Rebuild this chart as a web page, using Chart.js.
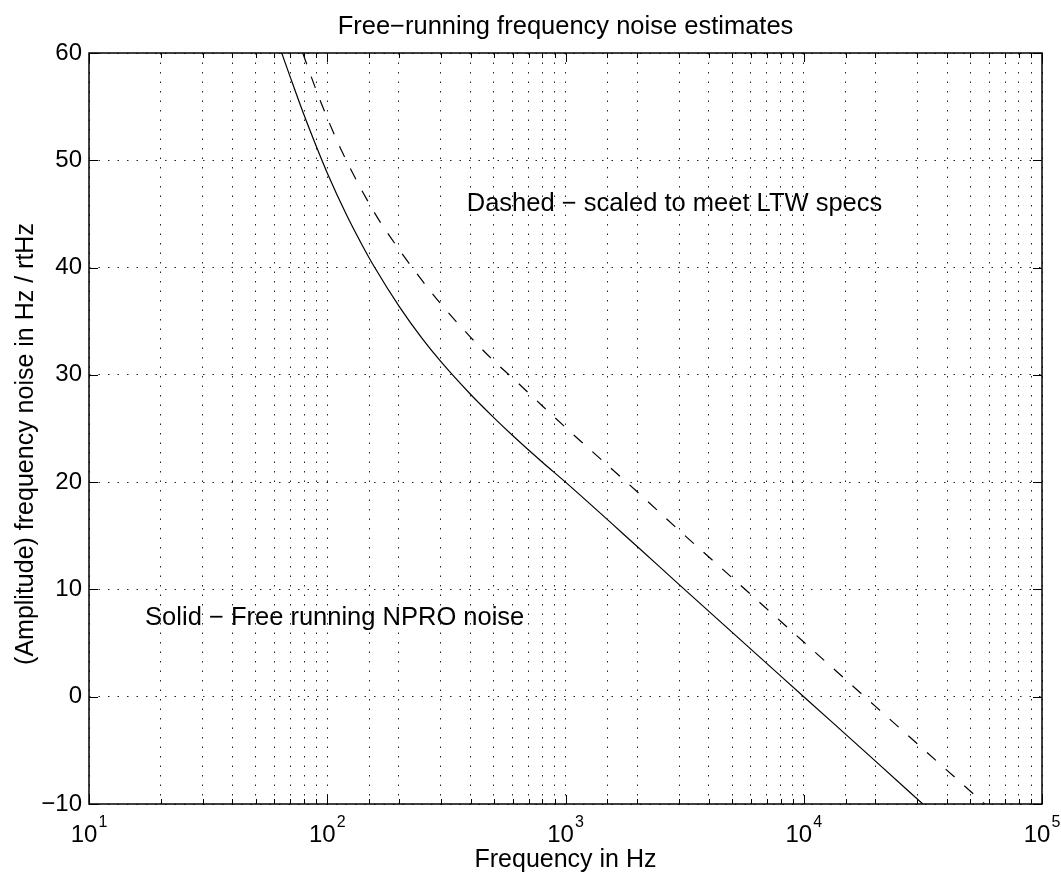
<!DOCTYPE html>
<html>
<head>
<meta charset="utf-8">
<script src="https://cdn.jsdelivr.net/npm/chart.js@4.4.0/dist/chart.umd.min.js"></script>
<style>
    html, body { margin: 0; padding: 0; background: #fff; }
    #wrap { width: 1061px; height: 875px; position: relative; }
</style>
</head>
<body>
<div id="wrap"><canvas id="noiseChart"></canvas></div>
<script>
// values (frequency in Hz, noise level)
const solidFreq  = [64.4, 70, 80, 90, 100, 120, 140, 158, 200, 250, 300, 400, 500, 600, 800, 1000, 2000, 3000, 10000, 20000, 31600];
const solidNoise = [60, 57.73, 54.19, 51.28, 48.82, 44.99, 42.11, 40.03, 36.41, 33.4, 31.23, 28.17, 26.02, 24.35, 21.85, 20, 14.0, 10.45, 0, -6.0, -10];

const dashedFreq  = [78.9, 90, 100, 116, 158, 200, 250, 300, 400, 500, 600, 800, 1000, 2000, 3000, 5000, 10000, 20000, 57500];
const dashedNoise = [60, 56.5, 53.95, 50.7, 45.1, 41.7, 38.8, 36.6, 33.5, 31.3, 29.7, 27.1, 25.1, 19.1, 15.5, 11.1, 5.1, -0.9, -10];

const xDecades = [1, 2, 3, 4, 5];
const yTicks = [-10, 0, 10, 20, 30, 40, 50, 60];

const FONT = "'Liberation Sans', Arial, Helvetica, sans-serif";
const titleText = "Free\u2212running frequency noise estimates";
const yTitleText = "(Amplitude) frequency noise in Hz / rtHz";

const notes = [
    {text: "Dashed \u2212 scaled to meet LTW specs", x: 385, y: 45.9},
    {text: "Solid \u2212 Free running NPRO noise", x: 17.2, y: 7.3}
];

const toPoints = (xs, ys) => xs.map((f, i) => ({x: f, y: ys[i]}));

// box, inside ticks, decade labels, titles and notes
const matlabFrame = {
    id: "matlabFrame",
    afterDraw(chart) {
        const {ctx, chartArea: a, scales: {x, y}} = chart;
        ctx.save();
        ctx.strokeStyle = "#000";
        ctx.lineWidth = 1;
        ctx.beginPath();
        x.ticks.forEach(t => {
            const px = Math.round(x.getPixelForValue(t.value)) + 0.5;
            const lg = Math.log10(t.value);
            const len = Math.abs(lg - Math.round(lg)) < 1e-6 ? 9 : 5;
            ctx.moveTo(px, a.bottom); ctx.lineTo(px, a.bottom - len);
            ctx.moveTo(px, a.top); ctx.lineTo(px, a.top + len);
        });
        yTicks.forEach(v => {
            const py = Math.round(y.getPixelForValue(v)) + 0.5;
            ctx.moveTo(a.left, py); ctx.lineTo(a.left + 9, py);
            ctx.moveTo(a.right, py); ctx.lineTo(a.right - 9, py);
        });
        ctx.stroke();

        ctx.lineWidth = 1.5;
        ctx.strokeRect(a.left, a.top, a.right - a.left, a.bottom - a.top);

        ctx.fillStyle = "#000";
        ctx.textBaseline = "alphabetic";
        ctx.textAlign = "left";
        xDecades.forEach(e => {
            const px = x.getPixelForValue(Math.pow(10, e));
            ctx.font = "24px " + FONT;
            const wBase = ctx.measureText("10").width;
            ctx.font = "16px " + FONT;
            const wExp = ctx.measureText(String(e)).width;
            const left = px - (wBase + wExp + 1) / 2;
            ctx.font = "24px " + FONT;
            ctx.fillText("10", left, a.bottom + 38);
            ctx.font = "16px " + FONT;
            ctx.fillText(String(e), left + wBase + 1, a.bottom + 23);
        });

        ctx.font = "25.5px " + FONT;
        ctx.textBaseline = "middle";
        notes.forEach(n => {
            ctx.fillText(n.text, x.getPixelForValue(n.x), y.getPixelForValue(n.y));
        });

        ctx.textAlign = "center";
        ctx.fillText(titleText, (a.left + a.right) / 2, 27);

        ctx.font = "25px " + FONT;
        ctx.translate(26, 444);
        ctx.rotate(-Math.PI / 2);
        ctx.fillText(yTitleText, 0, 0);
        ctx.restore();
    }
};

new Chart(document.getElementById("noiseChart").getContext("2d"), {
    type: "line",
    data: {
        datasets: [
            {
                label: "Solid",
                data: toPoints(solidFreq, solidNoise),
                borderColor: "#000",
                borderWidth: 1.2,
                pointRadius: 0,
                fill: false,
                cubicInterpolationMode: "monotone"
            },
            {
                label: "Dashed",
                data: toPoints(dashedFreq, dashedNoise),
                borderColor: "#000",
                borderWidth: 1.2,
                borderDash: [12, 13],
                pointRadius: 0,
                fill: false,
                cubicInterpolationMode: "monotone"
            }
        ]
    },
    options: {
        responsive: true,
        maintainAspectRatio: false,
        animation: false,
        layout: {padding: {left: 0, right: 19, top: 53, bottom: 0}},
        plugins: {
            legend: {display: false},
            tooltip: {enabled: false},
            title: {display: false}
        },
        scales: {
            x: {
                type: "logarithmic",
                min: 10,
                max: 100000,
                afterFit: s => { s.height = 71; },
                ticks: {display: false},
                grid: {color: "#222", lineWidth: 1, drawTicks: false},
                border: {display: false, dash: [1.5, 8]},
                title: {
                    display: true,
                    text: "Frequency in Hz",
                    color: "#000",
                    font: {family: FONT, size: 25},
                    padding: {top: 0, bottom: 0}
                }
            },
            y: {
                min: -10,
                max: 60,
                afterFit: s => { s.width = 89; },
                ticks: {
                    stepSize: 10,
                    padding: 7,
                    color: "#000",
                    font: {family: FONT, size: 24},
                    callback: v => String(v).replace("-", "\u2212")
                },
                grid: {color: "#222", lineWidth: 1, drawTicks: false},
                border: {display: false, dash: [1.5, 8]},
                title: {display: false}
            }
        }
    },
    plugins: [matlabFrame]
});
</script>
</body>
</html>
